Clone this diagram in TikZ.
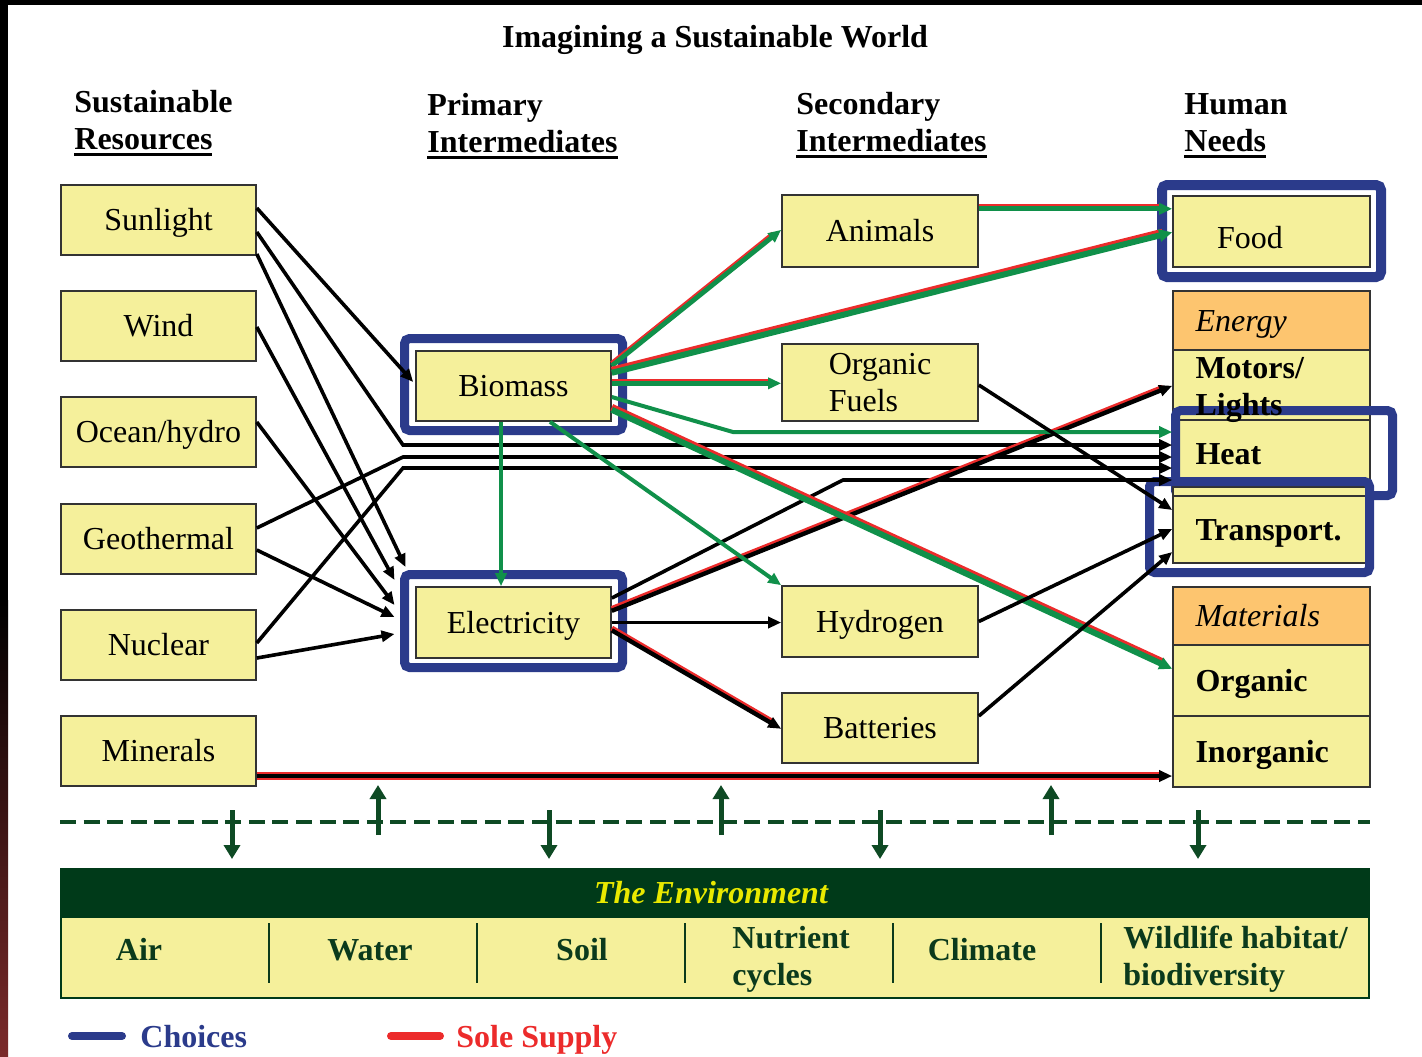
\documentclass[tikz,border=0pt]{standalone}
\usepackage{fontspec}
\setmainfont{Liberation Serif}
\usetikzlibrary{arrows.meta,calc}

\definecolor{boxyellow}{HTML}{F5F09B}
\definecolor{hdrorange}{HTML}{FDC56F}
\definecolor{frameblue}{HTML}{2B3B8B}
\definecolor{choicegreen}{HTML}{10904A}
\definecolor{solered}{HTML}{EC2B2B}
\definecolor{envdark}{HTML}{003A19}
\definecolor{envline}{HTML}{0E4A24}
\definecolor{envtext}{HTML}{0B3A1C}
\definecolor{envyellow}{HTML}{E9E900}
\definecolor{leftred}{HTML}{7B2A2A}

\newcommand\fs{\fontsize{16}{18.5}\selectfont}
\newcommand\twoln[2]{\vbox{\hbox{#1}\hbox{#2}}}
\newcommand\thickul[1]{\vtop{\hbox{#1}\kern1.4pt\hrule height 1.4pt}}
% a line drawn twice: an underlay and an overlay on the same path
\newcommand\duo[3]{\draw[#1] #3; \draw[#2] #3;}

\begin{document}
\begin{tikzpicture}[x=0.5pt, y=-0.5pt, font=\fs,
  box/.style={draw=black!80, line width=0.8pt, fill=boxyellow, inner sep=0pt,
    minimum width=97.5pt, minimum height=35pt, text height=10.6pt, text depth=0pt},
  row/.style={draw=black!80, line width=0.8pt, fill=boxyellow, minimum width=98.5pt,
    inner xsep=11.25pt, inner ysep=0pt, text height=10.6pt, text depth=0pt},
  frame/.style={draw=frameblue, line width=4.5pt, rounded corners=2.5pt, inner sep=0pt},
  head/.style={anchor=base west, inner sep=0pt, font=\fs\bfseries},
  envlbl/.style={anchor=base, inner sep=0pt, font=\fs\bfseries, text=envtext},
  conn/.style={draw=black, line width=1.8pt, -{Triangle[length=6.5pt,width=5.5pt]}},
  gconn/.style={draw=choicegreen, line width=2pt, -{Triangle[length=6.5pt,width=5.5pt]}},
  redU/.style={draw=solered, line width=2.6pt, shorten >=5pt, transform canvas={yshift=0.7pt}},
  redUw/.style={draw=solered, line width=3.4pt, shorten >=5pt, transform canvas={yshift=0.9pt}},
  greenO/.style={draw=choicegreen, line width=2.4pt, transform canvas={yshift=-0.4pt},
    -{Triangle[length=6.5pt,width=5.5pt]}},
  greenOw/.style={draw=choicegreen, line width=3pt, transform canvas={yshift=-0.4pt},
    -{Triangle[length=6.5pt,width=6pt]}},
  blackO/.style={draw=black, line width=2.2pt, transform canvas={yshift=-0.4pt},
    -{Triangle[length=6.5pt,width=5.5pt]}},
  redM/.style={draw=solered, line width=4pt, shorten >=5pt},
  blackM/.style={draw=black, line width=2pt, -{Triangle[length=6.5pt,width=5.5pt]}},
  envarrow/.style={draw=envline, line width=2.5pt, -{Triangle[length=7pt,width=8pt]}}]

\useasboundingbox (0,0) rectangle (1422,1056);

% page edges
\fill[black] (0,0) rectangle (1422,5);
\fill[black] (0,0) rectangle (8,1056);
\shade[top color=black, bottom color=leftred] (0,600) rectangle (8,1056);

% title and column headings
\node[anchor=base, inner sep=0pt, font=\fs\bfseries] (title) at (715,47.6) {Imagining a Sustainable World};
\node[head] (hres) at (74,149.6) {\twoln{Sustainable}{\thickul{Resources}}};
\node[head] (hpri) at (427,152.6) {\twoln{Primary}{\thickul{Intermediates}}};
\node[head] (hsec) at (796,151.6) {\twoln{Secondary}{\thickul{Intermediates}}};
\node[head] (hneed) at (1184,151.6) {\twoln{Human}{\thickul{Needs}}};

% sustainable resources
\node[box] (sun) at (158.5,220) {Sunlight};
\node[box] (wind) at (158.5,326) {Wind};
\node[box] (ocean) at (158.5,432) {Ocean/hydro};
\node[box] (geo) at (158.5,539) {Geothermal};
\node[box] (nuc) at (158.5,645) {Nuclear};
\node[box] (min) at (158.5,751) {Minerals};

% primary intermediates
\node[box] (bio) at (513.5,386) {Biomass};
\node[box, minimum height=35.5pt] (elec) at (513.5,622.5) {Electricity};

% secondary intermediates
\node[box, minimum width=98pt, minimum height=36pt] (animals) at (880,231) {Animals};
\node[box, minimum width=98pt, minimum height=38.5pt, text height=29.1pt] (ofuel) at (880,382.5) {\twoln{Organic}{Fuels}};
\node[box, minimum width=98pt, minimum height=35.5pt] (hydro) at (880,621.5) {Hydrogen};
\node[box, minimum width=98pt] (batt) at (880,728) {Batteries};

% human needs
\node[box, minimum width=98.5pt, minimum height=35.5pt] (food) at (1271.5,231.5) {};
\node[inner sep=0pt, text height=10.6pt, text depth=0pt] (foodT) at (1250,238) {Food};
\node[frame, line width=5pt, minimum width=109.5pt, minimum height=46pt] (foodf) at (1271.5,231) {};

\node[row, fill=hdrorange, minimum height=29.5pt] (energy) at (1271.5,320.5) {\makebox[76pt][l]{\itshape Energy}};
\node[row, minimum height=35pt] (motors) at (1271.5,385) {\makebox[76pt][l]{}};
\node[row, minimum height=33.5pt] (heat) at (1271.5,453.5) {\makebox[76pt][l]{\bfseries Heat}};
\node[frame, minimum width=108.5pt, minimum height=42.5pt] (heatf) at (1284,453) {};
\node[row, minimum height=4.5pt, text height=0pt] (strip) at (1271.5,491.5) {\makebox[76pt]{}};
\node[row, minimum height=33.5pt] (trans) at (1271.5,529.5) {\makebox[76pt][l]{\bfseries Transport.}};
\node[frame, minimum width=110pt, minimum height=45.5pt] (transf) at (1259.5,527) {};
\node[inner xsep=11.25pt, inner ysep=0pt, text height=29.1pt, text depth=0pt, font=\fs\bfseries] (motorsT) at (1271.5,386) {\makebox[76pt][l]{\twoln{Motors/}{Lights}}};

\node[row, fill=hdrorange, minimum height=29pt] (mat) at (1271.5,616) {\makebox[76pt][l]{\itshape Materials}};
\node[row, minimum height=35.5pt] (organic) at (1271.5,680.5) {\makebox[76pt][l]{\bfseries Organic}};
\node[row, minimum height=35.5pt] (inorg) at (1271.5,751.5) {\makebox[76pt][l]{\bfseries Inorganic}};

% choice frames round the primary intermediates
\node[frame, minimum width=109pt, minimum height=46pt] (biof) at (513.5,384.5) {};
\node[frame, minimum width=109pt, minimum height=46.5pt] (elecf) at (513.5,621) {};

% bend points of the routed connectors
\coordinate (j1) at (403,445);
\coordinate (j2) at (403,457);
\coordinate (j3) at (403,468);
\coordinate (j4) at (843,480);
\coordinate (j5) at (733,432);

% resources to intermediates and heat
\draw[conn] ($(sun.east)+(0,-12)$) -- ($(bio.west)+(-2,-4)$);
\draw[conn] ($(sun.east)+(0,12)$) -- (j1) -- (j1 -| heat.west);
\draw[conn] ($(sun.east)+(0,34)$) -- ($(elecf.west)+(5.5,-54)$);
\draw[conn] ($(wind.east)+(0,1)$) -- ($(elecf.west)+(-5.5,-41)$);
\draw[conn] ($(ocean.east)+(0,-10)$) -- ($(elecf.west)+(-5.5,-16)$);
\draw[conn] ($(geo.east)+(0,-11)$) -- (j2) -- (j2 -| heat.west);
\draw[conn] ($(geo.east)+(0,11)$) -- ($(elecf.west)+(-5.5,-4)$);
\draw[conn] ($(nuc.east)+(0,-2)$) -- (j3) -- (j3 -| heat.west);
\draw[conn] ($(nuc.east)+(0,13)$) -- ($(elecf.west)+(-5.5,13)$);

% electricity outputs
\draw[conn] ($(elec.east)+(0,-24.5)$) -- (j4) -- (j4 -| heat.west);
\duo{redU}{blackO}{($(elec.east)+(0,-12.5)$) -- (motors.west)}
\draw[conn] (elec.east) -- (elec.east -| hydro.west);
\duo{redU}{blackO}{($(elec.east)+(0,7)$) -- (batt.west)}

% biomass outputs
\duo{redU}{greenO}{($(bio.east)+(0,-21)$) -- ($(animals.west)+(0,-2)$)}
\duo{redUw}{greenOw}{($(bio.east)+(0,-14)$) -- (food.west)}
\duo{redU}{greenO}{($(bio.east)+(0,-3.5)$) -- (ofuel.west)}
\draw[gconn] ($(bio.east)+(0,11)$) -- (j5) -- (j5 -| heat.west);
\duo{redUw}{greenOw}{($(bio.east)+(0,23)$) -- ($(organic.west)+(0,-12.5)$)}
\draw[gconn] ($(bio.south)+(-12.5,0)$) -- ($(elec.north)+(-12.5,0)$);
\draw[gconn] ($(bio.south)+(36.5,0)$) -- (hydro.north west);

% secondary intermediates to needs
\duo{redU}{greenO}{($(animals.east)+(0,-23)$) -- ($(food.west)+(0,-23.5)$)}
\draw[conn] ($(ofuel.east)+(0,2.5)$) -- ($(trans.west)+(0,-19.5)$);
\draw[conn] (hydro.east) -- ($(trans.west)+(0,-0.5)$);
\draw[conn] ($(batt.east)+(0,-12)$) -- ($(trans.west)+(0,22.5)$);
\duo{redM}{blackM}{($(min.east)+(0,25)$) -- ($(inorg.west)+(0,24.5)$)}

% boundary with the environment
\draw[envline, line width=2pt, dash pattern=on 8pt off 3.8pt] (60,822) -- (1370,822);
\foreach \x in {232,549,880,1198} \draw[envarrow] (\x,810) -- (\x,859);
\foreach \x in {378,721,1051} \draw[envarrow] (\x,835) -- (\x,785);

% the environment
\node[draw=envdark, line width=0.8pt, fill=boxyellow, minimum width=654pt, minimum height=64.5pt, inner sep=0pt] (env) at (715,933.5) {};
\node[fill=envdark, minimum width=654pt, minimum height=24.5pt, inner sep=0pt] (envhead) at (715,893.5) {};
\node[text height=10.6pt, text depth=0pt, inner sep=0pt, font=\fs\bfseries\itshape, text=envyellow] (envT) at (711,893) {The Environment};
\foreach \x in {269,477,685,893,1101} \draw[envtext, line width=1pt] (\x,923) -- (\x,983);
\node[envlbl] (air) at (139,960.6) {Air};
\node[envlbl] (water) at (370,960.6) {Water};
\node[envlbl] (soil) at (582,960.6) {Soil};
\node[envlbl, anchor=base west] (nutr) at (732,985.6) {\twoln{Nutrient}{cycles}};
\node[envlbl] (clim) at (982,960.6) {Climate};
\node[envlbl, anchor=base west] (wild) at (1123,985.6) {\twoln{Wildlife habitat/}{biodiversity}};

% legend
\draw[frameblue, line width=4pt, line cap=round] (72,1036) -- (122,1036);
\node[anchor=base west, inner sep=0pt, font=\fs\bfseries, text=frameblue] (lchoice) at (140,1047.6) {Choices};
\draw[solered, line width=4pt, line cap=round] (391,1036) -- (440,1036);
\node[anchor=base west, inner sep=0pt, font=\fs\bfseries, text=solered] (lsole) at (456,1047.6) {Sole Supply};
\end{tikzpicture}
\end{document}
